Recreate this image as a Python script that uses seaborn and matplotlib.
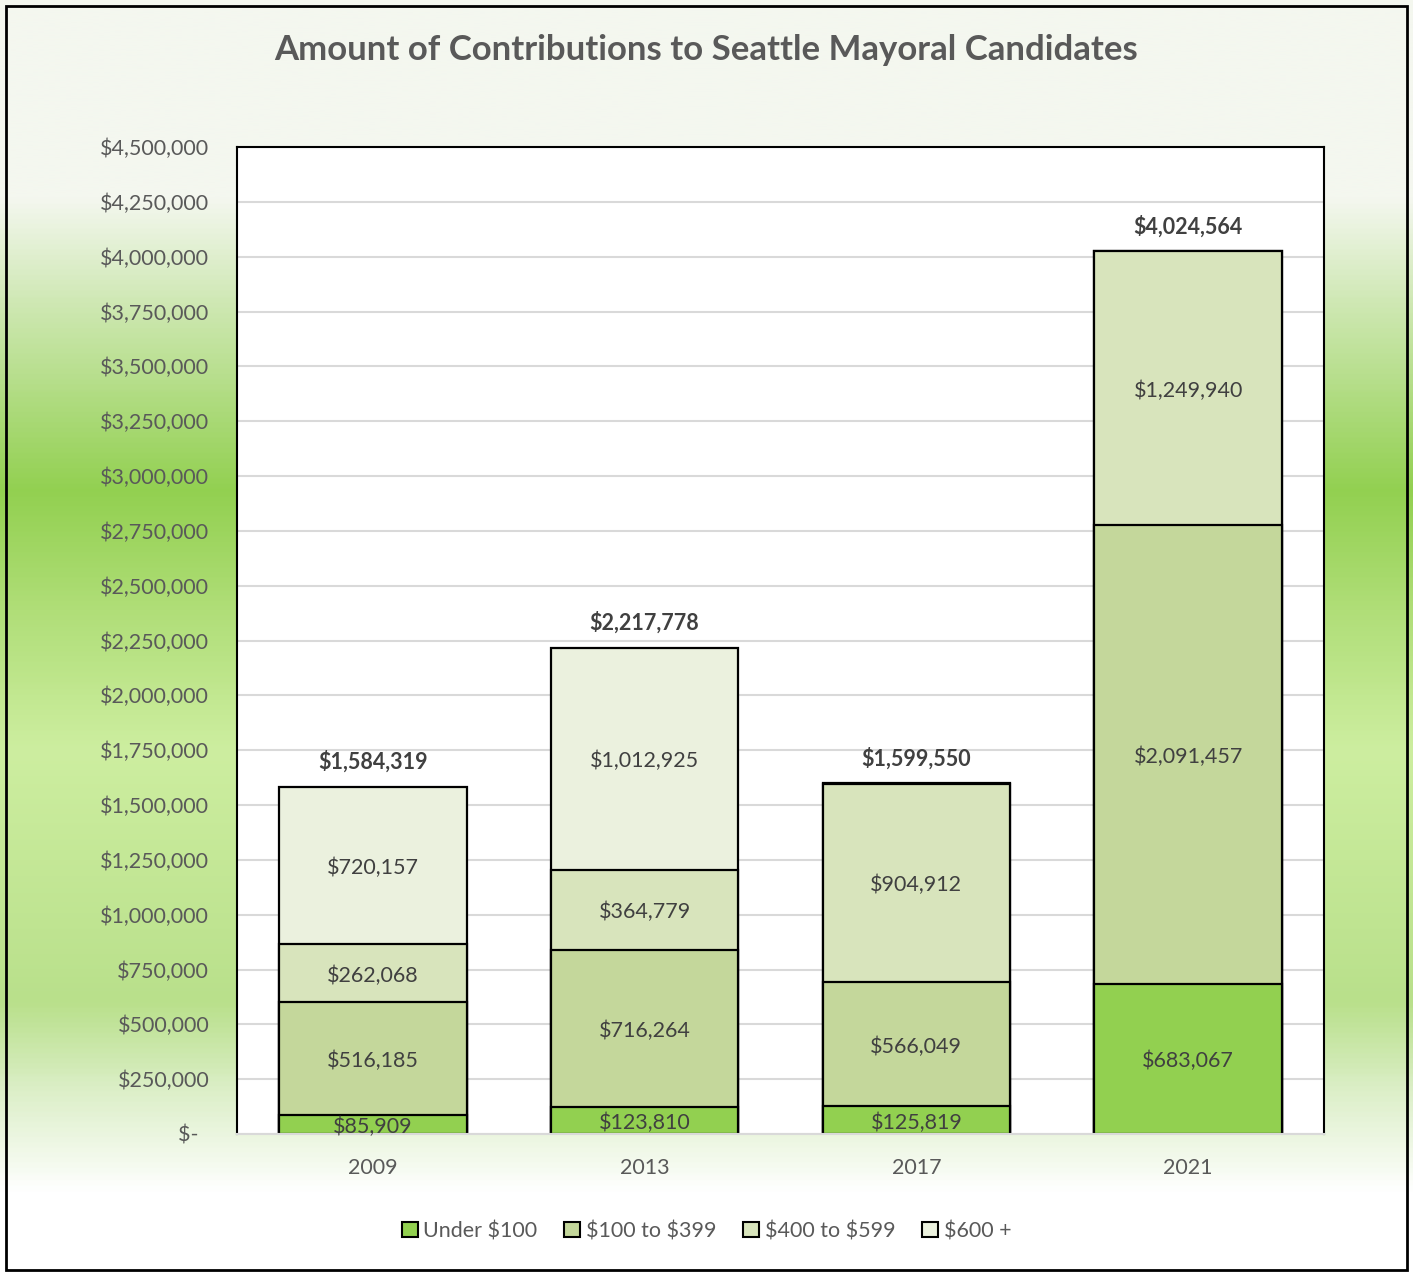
import numpy as np
import pandas as pd
import matplotlib
matplotlib.use('Agg')
import matplotlib.pyplot as plt
from matplotlib.colors import LinearSegmentedColormap
from matplotlib.patches import Patch, Rectangle
from matplotlib.ticker import FuncFormatter, MultipleLocator
import seaborn as sns

# datos
years = ['2009', '2013', '2017', '2021']
groups = ['Under $100', '$100 to $399', '$400 to $599', '$600 +']
under_100 = [85909, 123810, 125819, 683067]
from_100_399 = [516185, 716264, 566049, 2091457]
from_400_599 = [262068, 364779, 904912, 1249940]
over_600 = [720157, 1012925, 2770, 100]
colors = ['#92d050', '#c4d79b', '#d8e4bc', '#ebf1de']

data = pd.DataFrame({'year': years, groups[0]: under_100, groups[1]: from_100_399,
                     groups[2]: from_400_599, groups[3]: over_600})
cum = data[groups].cumsum(axis=1)
totals = cum[groups[-1]]

sns.set_style('white')
plt.rcParams['font.family'] = ['Lato', 'DejaVu Sans']
plt.rcParams['text.parse_math'] = False

fig = plt.figure(figsize=(14.13, 12.72), dpi=100)

# fondo degradado
bg = fig.add_axes([0, 0, 1, 1], zorder=-10)
grad = LinearSegmentedColormap.from_list('bg', [
    (0.00, '#f4f7ef'), (0.155, '#f4f7ef'), (0.22, '#d6ebbf'),
    (0.385, '#92d050'), (0.48, '#b0de78'), (0.59, '#cdeea0'),
    (0.79, '#b9e08b'), (0.86, '#dcefc8'), (0.94, '#ffffff'), (1.00, '#ffffff')])
bg.imshow(np.linspace(0, 1, 500).reshape(-1, 1), aspect='auto', cmap=grad,
          extent=[0, 1, 0, 1])
bg.set_axis_off()
fig.patches.append(Rectangle((6 / 1413, 2 / 1272), 1401 / 1413, 1264 / 1272,
                             transform=fig.transFigure, fill=False,
                             edgecolor='black', linewidth=2, zorder=5))

ax = fig.add_axes([237 / 1413, 1 - 1134 / 1272, 1087 / 1413, 987 / 1272])
ax.set_facecolor('white')

# barras apiladas: de la suma total hacia abajo
for i in range(len(groups) - 1, -1, -1):
    sns.barplot(x=data['year'], y=cum[groups[i]], color=colors[i], saturation=1,
                edgecolor='black', linewidth=1.6, width=0.69, errorbar=None, ax=ax)

for j in range(len(years)):
    for i, g in enumerate(groups):
        val = data[g][j]
        if val < 50000:
            continue
        mid = cum[g][j] - val / 2
        ax.text(j, mid - 10000, f'${val:,}', ha='center', va='center', fontsize=15.5,
                color='#404040')
    ax.annotate(f'${totals[j]:,}', (j, totals[j]), xytext=(0, 18),
                textcoords='offset points', ha='center', va='center',
                fontsize=15.5, fontweight='bold', color='#404040')

ax.set_ylim(0, 4500000)
ax.set_xlim(-0.5, 3.5)
ax.yaxis.set_major_locator(MultipleLocator(250000))
ax.yaxis.set_major_formatter(FuncFormatter(lambda v, p: '$-  ' if v == 0 else f'${v:,.0f}'))
ax.grid(axis='y', color='#d9d9d9', linewidth=1.5)
ax.set_axisbelow(True)
ax.tick_params(axis='y', length=0, pad=20, labelsize=15.5, labelcolor='#595959')
ax.tick_params(axis='x', length=0, pad=17, labelsize=15.5, labelcolor='#595959')
ax.set_xlabel('')
ax.set_ylabel('')
for s in ['top', 'left', 'right']:
    ax.spines[s].set_color('black')
    ax.spines[s].set_linewidth(1.5)
ax.spines['bottom'].set_color('#d9d9d9')
ax.spines['bottom'].set_linewidth(1.5)

fig.text(0.5, 1 - 50 / 1272, 'Amount of Contributions to Seattle Mayoral Candidates',
         ha='center', va='center', fontsize=25, fontweight='bold', color='#595959')

handles = [Patch(facecolor=c, edgecolor='black', linewidth=1.5) for c in colors]
fig.legend(handles, groups, loc='center', bbox_to_anchor=(0.5, 1 - 1231 / 1272),
           ncol=4, frameon=False, fontsize=15.5, handlelength=0.75, handleheight=0.75,
           handletextpad=0.25, columnspacing=1.25, labelcolor='#595959')

plt.savefig('out.png', dpi=100)
plt.close()
